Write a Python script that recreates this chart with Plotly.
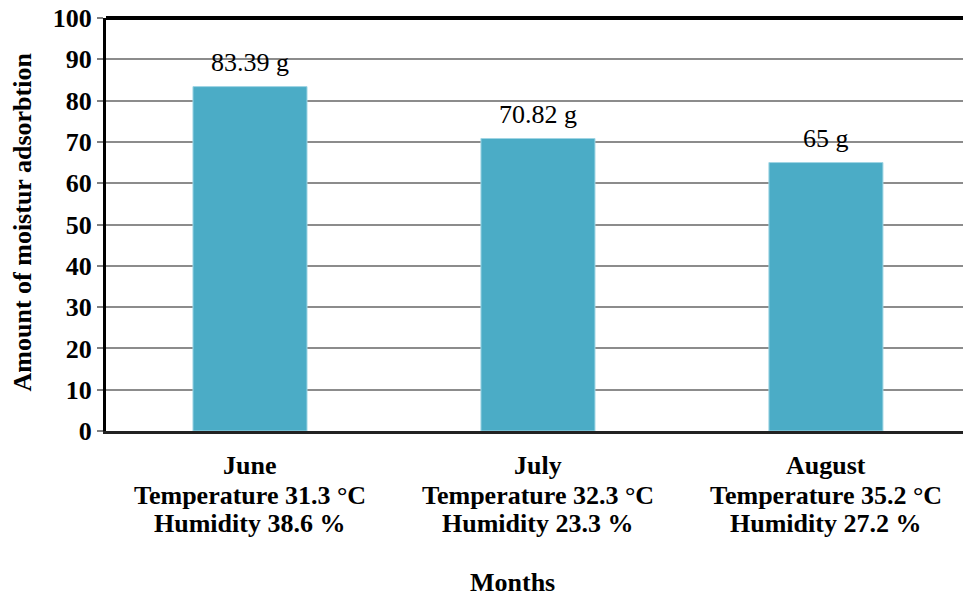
import plotly.graph_objects as go

months = ["June", "July", "August"]
temperatures = ["31.3", "32.3", "35.2"]
humidities = ["38.6", "23.3", "27.2"]
values = [83.39, 70.82, 65]
labels = ["83.39 g", "70.82 g", "65 g"]
y_ticks = list(range(0, 101, 10))
y_title = "Amount of moistur adsorbtion"
x_title = "Months"

FONT = "Liberation Serif"
FS = 26

fig = go.Figure()
fig.add_trace(go.Bar(
    x=[0, 1, 2], y=values, width=0.396,
    marker=dict(color="#4BACC6", line=dict(color="#9fd5e4", width=1)),
))
# data labels
for i, (v, t) in enumerate(zip(values, labels)):
    fig.add_annotation(x=i, y=v, text=t, showarrow=False, yanchor="middle", yshift=24,
                       font=dict(family=FONT, size=FS, color="black"))
# category labels (three lines each)
for i, (m, tp, h) in enumerate(zip(months, temperatures, humidities)):
    lines = [m, f"Temperature {tp} °C", f"Humidity {h} %"]
    for line, shift in zip(lines, [-34, -64, -92]):
        fig.add_annotation(x=i, xref="x", y=0, yref="paper", yanchor="middle", yshift=shift,
                           text=f"<b>{line}</b>", showarrow=False,
                           font=dict(family=FONT, size=FS, color="black"))
# axis titles
fig.add_annotation(x=0.474, xref="paper", y=0, yref="paper", yanchor="middle", yshift=-151,
                   text=f"<b>{x_title}</b>", showarrow=False,
                   font=dict(family=FONT, size=FS, color="black"))
fig.add_annotation(x=0, xref="paper", xanchor="center", xshift=-84, y=0.505, yref="paper",
                   yanchor="middle", textangle=-90, text=f"<b>{y_title}</b>", showarrow=False,
                   font=dict(family=FONT, size=FS, color="black"))

fig.update_layout(
    width=963, height=597,
    margin=dict(l=106, r=0, t=18, b=166),
    paper_bgcolor="white", plot_bgcolor="white",
    showlegend=False,
    font=dict(family=FONT, color="black"),
    xaxis=dict(
        range=[-0.5, 2.476], automargin=False,
        tickvals=[0, 1, 2], showticklabels=False,
        showline=True, linecolor="#222", linewidth=3,
        ticks="", showgrid=False,
    ),
    yaxis=dict(
        range=[0, 100], tickvals=y_ticks, automargin=False,
        tickfont=dict(family=FONT, size=FS, color="black", weight="bold"),
        showline=True, linecolor="black", linewidth=3,
        ticks="outside", ticklen=6, tickcolor="#808080", tickwidth=2,
        showgrid=True, gridcolor="#8c8c8c", gridwidth=2,
        zeroline=False,
    ),
)
fig.add_shape(type="line", xref="paper", yref="paper", x0=0, x1=1, y0=1, y1=1,
              line=dict(color="black", width=4))

fig.write_html("out.html", config={"displayModeBar": False},
               post_script="document.body.style.margin='0';document.body.style.overflow='hidden';")
